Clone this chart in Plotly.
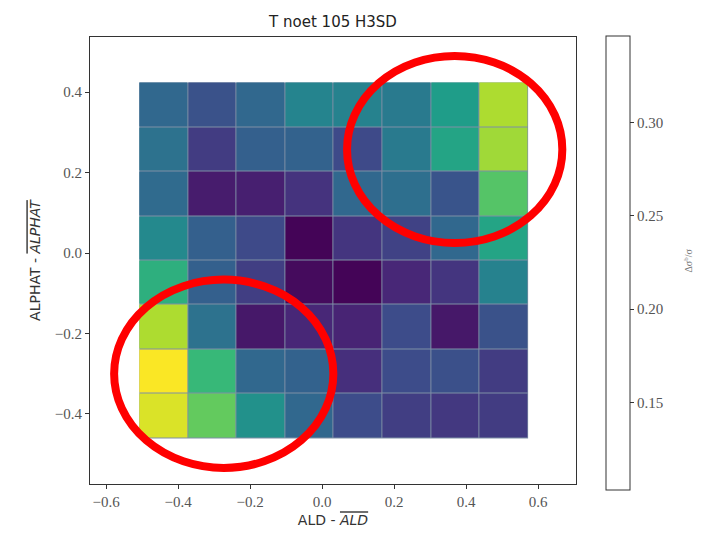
import plotly.graph_objects as go

# bin edges of the 2D histogram
x_edges = [-0.508, -0.373, -0.238, -0.103, 0.032, 0.167, 0.302, 0.437, 0.572]
y_edges = [-0.461, -0.350, -0.240, -0.129, -0.018, 0.092, 0.203, 0.313, 0.424]

# values, rows from bottom (low y) to top (high y)
z_rows = [
    [0.333, 0.287, 0.225, 0.184, 0.160, 0.148, 0.143, 0.146],
    [0.345, 0.266, 0.184, 0.179, 0.136, 0.160, 0.163, 0.146],
    [0.316, 0.194, 0.119, 0.129, 0.127, 0.160, 0.119, 0.165],
    [0.256, 0.177, 0.148, 0.110, 0.105, 0.129, 0.141, 0.211],
    [0.218, 0.177, 0.158, 0.105, 0.141, 0.151, 0.184, 0.244],
    [0.187, 0.122, 0.124, 0.139, 0.184, 0.191, 0.167, 0.280],
    [0.194, 0.146, 0.177, 0.179, 0.158, 0.203, 0.244, 0.311],
    [0.184, 0.165, 0.184, 0.213, 0.211, 0.203, 0.237, 0.316],
]
zmin, zmax = 0.103, 0.346
cbar_ticks = [0.15, 0.20, 0.25, 0.30]
x_ticks = [-0.6, -0.4, -0.2, 0.0, 0.2, 0.4, 0.6]
y_ticks = [-0.4, -0.2, 0.0, 0.2, 0.4]

# highlighted regions (ellipses)
ellipses = [
    (0.069, 0.025, 0.667, 0.490),
    (-0.578, -0.534, 0.031, -0.066),
]

serif = "Liberation Serif"
sans = "DejaVu Sans"

fig = go.Figure()
# faint cell-edge colour showing through the heatmap gaps
fig.add_shape(type="rect", xref="x", yref="y",
              x0=x_edges[0], x1=x_edges[-1], y0=y_edges[0], y1=y_edges[-1],
              fillcolor="#7f8fa6", line=dict(width=0), layer="below")
fig.add_trace(go.Heatmap(
    x=x_edges, y=y_edges, z=z_rows,
    colorscale="Viridis", zmin=zmin, zmax=zmax,
    showscale=False, xgap=1, ygap=1,
    hoverinfo="skip",
))
# empty-looking colorbar as in the reference
fig.add_trace(go.Scatter(
    x=[0], y=[0], mode="markers",
    marker=dict(size=1, opacity=0, color=[zmin],
                colorscale=[[0, "white"], [1, "white"]],
                cmin=zmin, cmax=zmax, showscale=True,
                colorbar=dict(
                    x=1.062, xanchor="left", xpad=0,
                    y=0.4934, yanchor="middle", len=454, lenmode="pixels", ypad=0,
                    thickness=24, outlinewidth=1, outlinecolor="#333",
                    tickvals=cbar_ticks, ticktext=[f"{t:.2f}" for t in cbar_ticks],
                    ticks="outside", ticklen=4, tickcolor="#333",
                    tickfont=dict(family=serif, size=15, color="#555"),
                )),
    hoverinfo="skip", showlegend=False,
))

for x0, y0, x1, y1 in ellipses:
    fig.add_shape(type="circle", xref="x", yref="y", x0=x0, y0=y0, x1=x1, y1=y1,
                  line=dict(color="#ff0000", width=8), layer="above")

axis_common = dict(
    showgrid=False, zeroline=False, showline=True, linecolor="#333", linewidth=1,
    mirror=True, ticks="outside", ticklen=4, tickcolor="#333",
    tickfont=dict(family=serif, size=15, color="#555"),
)
fig.update_xaxes(range=[-0.645, 0.705], tickvals=x_ticks,
                 ticktext=[f"{t:.1f}".replace("-", "\u2212") for t in x_ticks],
                 title=dict(text="ALD - <i><span style='text-decoration:overline'>ALD</span></i>",
                            font=dict(family=sans, size=14, color="#333"), standoff=6),
                 **axis_common)
fig.update_yaxes(range=[-0.574, 0.537], tickvals=y_ticks,
                 ticktext=[f"{t:.1f}".replace("-", "\u2212") for t in y_ticks],
                 title=dict(text="ALPHAT - <i><span style='text-decoration:overline'>ALPHAT</span></i>",
                            font=dict(family=sans, size=14, color="#333"), standoff=10),
                 **axis_common)

fig.add_annotation(xref="paper", yref="paper", x=1.245, y=0.5,
                   text="\u0394\u03c3<sup>b</sup>/\u03c3", textangle=-90, showarrow=False,
                   font=dict(family=serif, size=10, color="#777"))

fig.update_layout(
    width=706, height=538,
    margin=dict(l=90, r=130, t=37, b=48),
    paper_bgcolor="white", plot_bgcolor="white",
    title=dict(text="T noet 105 H3SD", x=333 / 706, xanchor="center",
               y=1 - 22 / 538, yanchor="middle",
               font=dict(family=sans, size=15, color="#222")),
    showlegend=False,
)

fig.write_html("out.html")
